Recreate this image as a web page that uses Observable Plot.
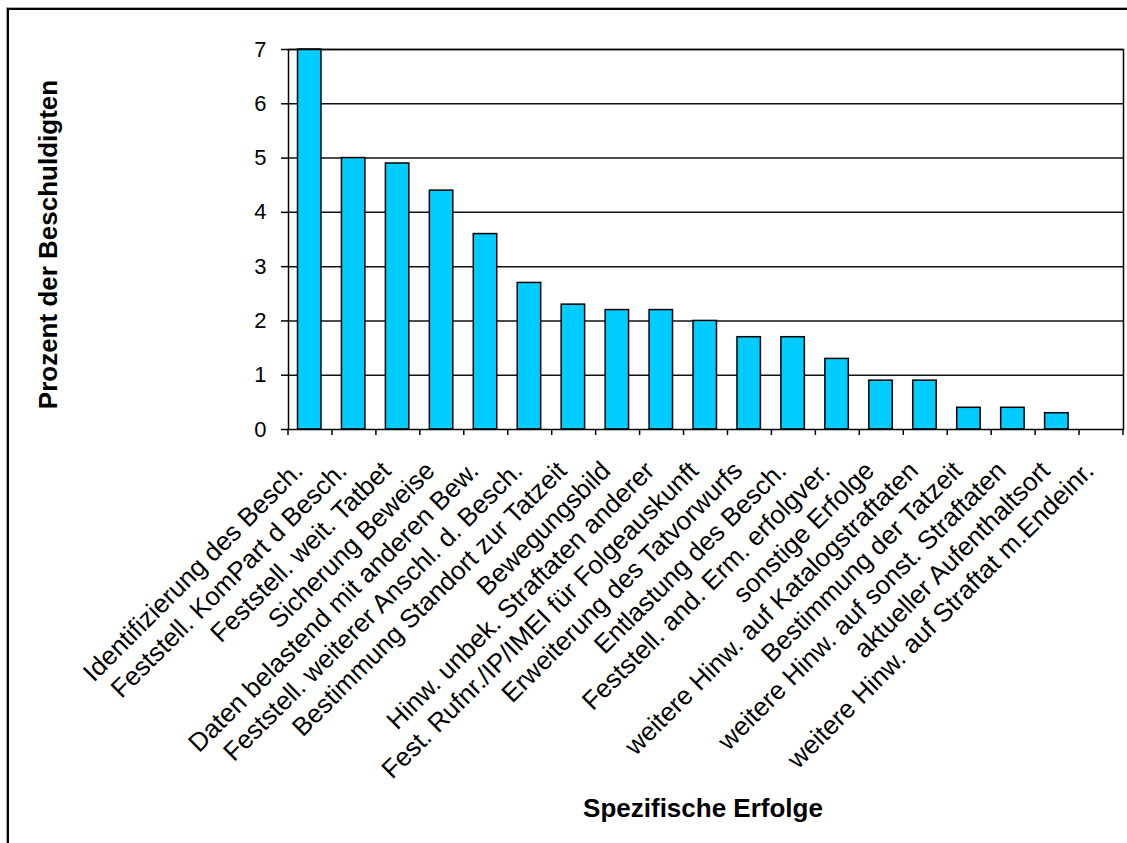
<!DOCTYPE html>
<html>
<head>
<meta charset="utf-8">
<script src="https://cdn.jsdelivr.net/npm/d3@7"></script>
<script src="https://cdn.jsdelivr.net/npm/@observablehq/plot@0.6"></script>
<style>
  html, body { margin: 0; padding: 0; background: #fff; }
  #wrap { position: relative; width: 1127px; height: 843px; overflow: hidden; }
  #outer { position: absolute; left: 7px; top: 8px; width: 1200px; height: 900px;
           border-left: 2px solid #000; border-top: 2px solid #000;
           box-shadow: -1px -1px 0 #aaa; pointer-events: none; }
  #chart { position: absolute; left: 0; top: 0; }
</style>
</head>
<body>
<div id="wrap"><div id="chart"></div><div id="outer"></div></div>
<script>
const categories = [
  "Identifizierung des Besch.",
  "Feststell. KomPart d Besch.",
  "Feststell. weit. Tatbet",
  "Sicherung Beweise",
  "Daten belastend mit anderen Bew.",
  "Feststell. weiterer Anschl. d. Besch.",
  "Bestimmung Standort zur Tatzeit",
  "Bewegungsbild",
  "Hinw. unbek. Straftaten anderer",
  "Fest. Rufnr./IP/IMEI für Folgeauskunft",
  "Erweiterung des Tatvorwurfs",
  "Entlastung des Besch.",
  "Feststell. and. Erm. erfolgver.",
  "sonstige Erfolge",
  "weitere Hinw. auf Katalogstraftaten",
  "Bestimmung der Tatzeit",
  "weitere Hinw. auf sonst. Straftaten",
  "aktueller Aufenthaltsort",
  "weitere Hinw. auf Straftat m.Endeinr."
];
const values = [7.0, 5.0, 4.9, 4.4, 3.6, 2.7, 2.3, 2.2, 2.2, 2.0, 1.7, 1.7, 1.3, 0.9, 0.9, 0.4, 0.4, 0.3, 0.0];
const yTicks = [0, 1, 2, 3, 4, 5, 6, 7];
const yTitle = "Prozent der Beschuldigten";
const xTitle = "Spezifische Erfolge";

const data = categories.map((c, i) => ({category: c, value: values[i]}));

// Excel-style tick marks at band boundaries, computed from the band scale
function boundaryTicks(index, scales, values, dims, context) {
  const sx = scales.x, sy = scales.y;
  const bw = typeof sx.bandwidth === "function" ? sx.bandwidth() : sx.bandwidth;
  const y0 = sy(0);
  const ns = "http://www.w3.org/2000/svg";
  const g = context.document.createElementNS(ns, "g");
  const pts = categories.map(c => sx(c));
  pts.push(sx(categories[categories.length - 1]) + bw);
  for (const x of pts) {
    const l = context.document.createElementNS(ns, "line");
    l.setAttribute("x1", x); l.setAttribute("x2", x);
    l.setAttribute("y1", y0); l.setAttribute("y2", y0 + 6);
    l.setAttribute("stroke", "#000"); l.setAttribute("stroke-width", 1.5);
    g.appendChild(l);
  }
  return g;
}

const chart = Plot.plot({
  width: 1127,
  height: 843,
  marginLeft: 288,
  marginRight: 4,
  marginTop: 49,
  marginBottom: 414,
  style: {fontFamily: "Arial, 'Liberation Sans', sans-serif", color: "#000", background: "transparent"},
  x: {domain: categories, padding: 0, round: false, axis: null},
  y: {domain: [0, 7], axis: null},
  marks: [
    Plot.ruleY(yTicks.filter(d => d > 0), {y: d => d, stroke: "#111", strokeWidth: 1.5}),
    Plot.barY(data, {x: "category", y: "value", fill: "#00CCFF", stroke: "#000", strokeWidth: 1.5,
      insetLeft: 9.5, insetRight: 11}),
    Plot.frame({stroke: "#000", strokeWidth: 1.5}),
    Plot.axisY(yTicks, {anchor: "left", tickSize: 7, tickPadding: 15, fontSize: 22, label: null,
      tickFormat: d => String(d), stroke: "#000", strokeWidth: 1.5}),
    Plot.ruleX(categories.slice(0, 1), {x: d => d, render: boundaryTicks}),
    Plot.text(data, {x: "category", text: "category", frameAnchor: "bottom", rotate: -45,
      textAnchor: "end", lineAnchor: "middle", dx: -12, dy: 37, fontSize: 26, fill: "#000"}),
    Plot.text([yTitle], {text: d => d, frameAnchor: "left", rotate: -90, dx: -240, dy: 5,
      textAnchor: "middle", lineAnchor: "middle",
      fontSize: 26, fontWeight: "bold", fill: "#000"}),
    Plot.text([xTitle], {text: d => d, frameAnchor: "bottom", dx: -3, dy: 379,
      textAnchor: "middle", lineAnchor: "middle",
      fontSize: 26, fontWeight: "bold", fill: "#000"})
  ]
});
document.getElementById("chart").appendChild(chart);
</script>
</body>
</html>
